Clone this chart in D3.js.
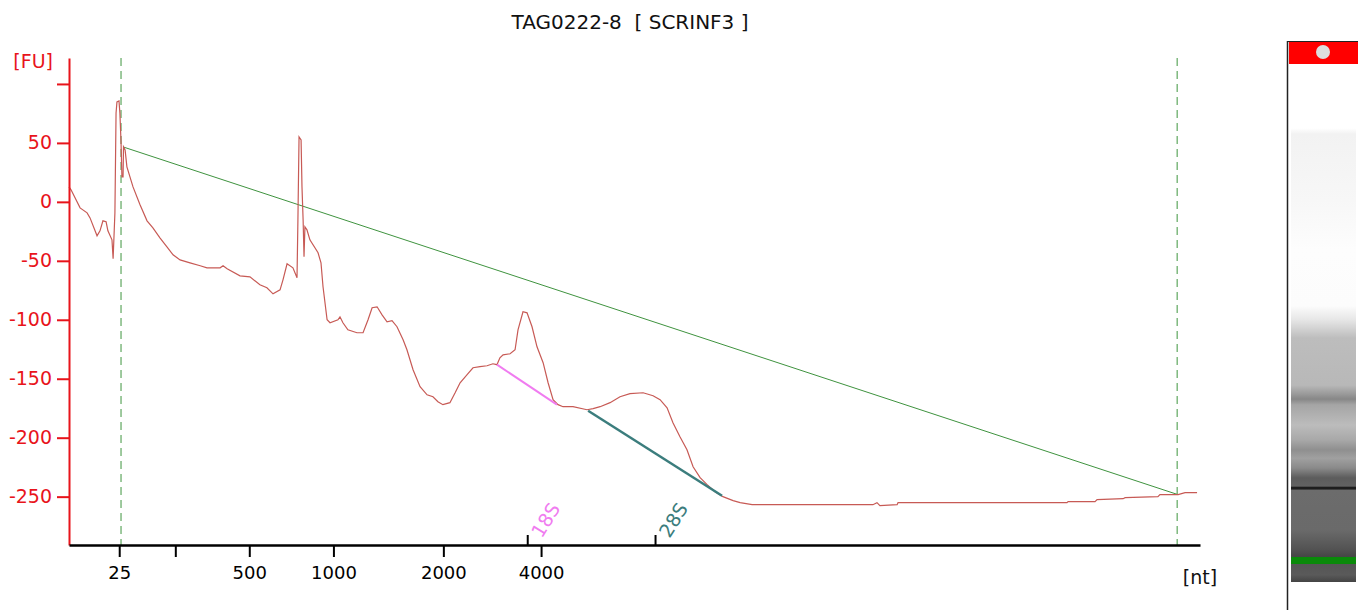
<!DOCTYPE html>
<html>
<head>
<meta charset="utf-8">
<script src="https://cdn.jsdelivr.net/npm/d3@7"></script>
<style>
  body { margin: 0; background: #fff; }
  svg { display: block; }
  text { font-family: "DejaVu Sans", Verdana, sans-serif; }
</style>
</head>
<body>
<svg id="chart" width="1358" height="610"></svg>
<script>
// migration time (s) and fluorescence (FU)
const timeSec = [19.00,19.09,19.49,19.80,19.93,20.24,20.37,20.50,20.64,20.72,
  20.90,20.95,21.03,21.08,21.12,21.21,21.25,21.30,21.34,21.39,
  21.41,21.48,21.56,21.83,22.14,22.45,22.71,23.02,23.33,23.60,
  23.91,24.35,24.80,25.10,25.68,25.81,25.99,26.56,27.00,27.44,
  27.75,28.02,28.33,28.46,28.64,28.90,29.08,29.12,29.17,29.26,
  29.30,29.35,29.39,29.43,29.52,29.65,30.01,30.14,30.23,30.41,
  30.54,30.89,30.98,31.11,31.33,31.73,32.00,32.22,32.40,32.62,
  32.84,33.06,33.28,33.50,33.77,33.94,34.21,34.52,34.83,35.09,
  35.31,35.53,35.84,36.07,36.29,36.60,36.86,37.17,37.48,37.74,
  37.92,38.05,38.19,38.50,38.72,38.85,39.07,39.25,39.47,39.69,
  39.96,40.18,40.40,40.62,40.84,41.28,41.90,42.17,42.48,42.92,
  43.36,43.80,44.38,44.82,45.13,45.44,45.70,46.01,46.32,46.59,
  46.90,47.21,47.56,47.91,48.36,48.67,49.20,54.54,54.72,54.85,
  55.61,55.65,63.12,63.17,64.36,64.45,65.60,65.69,67.14,67.23,
  68.03,68.34,68.87];
const fluor = [12.7,10.2,-5.1,-9.3,-13.6,-28.8,-24.6,-16.1,-16.9,-24.6,
  -32.2,-48.3,-9.3,75.4,84.7,85.6,75.4,50.8,21.2,21.2,
  46.6,44.1,29.7,12.7,-2.5,-16.1,-22.0,-30.5,-38.1,-44.9,
  -49.2,-51.7,-54.2,-55.9,-55.9,-54.2,-56.8,-62.7,-63.6,-70.3,
  -72.9,-78.0,-74.6,-66.1,-52.5,-55.9,-64.4,-15.3,55.1,52.5,
  12.7,-15.3,-46.6,-21.2,-23.7,-32.2,-43.2,-51.7,-72.0,-100.0,
  -102.5,-100.0,-97.5,-102.5,-108.5,-111.0,-111.0,-100.0,-89.8,-89.0,
  -95.8,-101.7,-100.8,-105.9,-116.9,-125.4,-142.4,-156.8,-163.6,-165.3,
  -169.5,-172.0,-170.3,-161.9,-153.4,-146.6,-140.7,-139.8,-139.0,-137.3,
  -138.1,-132.2,-129.7,-128.8,-125.4,-108.5,-93.2,-94.1,-105.9,-122.9,
  -136.4,-153.4,-167.8,-172.0,-173.7,-173.7,-176.3,-175.4,-173.7,-170.3,
  -165.3,-162.7,-161.9,-164.4,-167.8,-174.6,-187.3,-199.2,-210.2,-224.6,
  -233.9,-239.8,-245.8,-250.0,-253.4,-255.1,-256.8,-256.8,-255.1,-257.6,
  -256.8,-255.1,-255.1,-254.2,-254.2,-252.5,-251.7,-250.8,-250.0,-248.3,
  -248.3,-246.6,-246.6];

// ladder positions on the time axis and their size labels
const ladderTimes = [21.22, 23.70, 26.97, 30.69, 35.55, 39.87];
const ladderLabels = ["25", "", "500", "1000", "2000", "4000"];

const fuTicks = [100, 50, 0, -50, -100, -150, -200, -250];
const fuLabels = ["", "50", "0", "-50", "-100", "-150", "-200", "-250"];

// lower / upper markers and the baseline drawn between them
const markerTimes = [21.30, 67.99];
const baselineTimes = [21.39, 68.03];
const baselineFU = [46.6, -248.3];

// ribosomal peaks: name, tick time, area line start/end
const rrnaNames = ["18S", "28S"];
const rrnaTimes = [39.28, 44.93];
const rrnaStartTime = [37.92, 41.95];
const rrnaStartFU = [-138.1, -177.1];
const rrnaEndTime = [40.57, 47.87];
const rrnaEndFU = [-172.0, -249.2];
const rrnaColors = ["#f07cf0", "#3b7d7d"];

// gel lane grey levels (offset along lane, colour)
const gelOffsets = [0, 0.124, 0.135, 0.263, 0.359, 0.467, 0.494, 0.529, 0.62, 0.637,
  0.647, 0.658, 0.697, 0.726, 0.745, 0.761, 0.780, 0.799, 0.815, 0.817,
  0.821, 0.822, 0.9, 0.938, 0.952, 0.952, 0.965, 0.965, 0.986, 1];
const gelColors = ["#ffffff", "#ffffff", "#f2f2f2", "#f7f7f7", "#fdfdfd", "#fcfcfc", "#e6e6e6", "#bdbdbd", "#b8b8b8", "#9a9a9a",
  "#878787", "#a5a5a5", "#bcbcbc", "#a8a8a8", "#8f8f8f", "#a0a0a0", "#8a8a8a", "#5c5c5c", "#626262", "#1e1e1e",
  "#1e1e1e", "#6c6c6c", "#6a6a6a", "#525252", "#454545", "#0a8a0a", "#0a8a0a", "#555555", "#5a5a5a", "#444444"];

const svg = d3.select("#chart");
const red = "#e8141b";
const font = "DejaVu Sans, Verdana, sans-serif";

const x = d3.scaleLinear().domain([19, 69]).range([69, 1200]);
const y = d3.scaleLinear().domain([-291, 122]).range([545, 58]);

// title
svg.append("text")
  .attr("x", 630).attr("y", 29)
  .attr("text-anchor", "middle")
  .attr("font-size", 20)
  .attr("fill", "#111")
  .attr("xml:space", "preserve")
  .text("TAG0222-8  [ SCRINF3 ]");

// marker lines
svg.selectAll(".marker")
  .data(markerTimes)
  .join("line")
  .attr("x1", d => x(d)).attr("x2", d => x(d))
  .attr("y1", y.range()[1]).attr("y2", y.range()[0])
  .attr("stroke", "#3e963e")
  .attr("stroke-width", 1)
  .attr("stroke-dasharray", "8,5");

// baseline
svg.append("line")
  .attr("x1", x(baselineTimes[0])).attr("y1", y(baselineFU[0]))
  .attr("x2", x(baselineTimes[1])).attr("y2", y(baselineFU[1]))
  .attr("stroke", "#3f933f")
  .attr("stroke-width", 1);

// trace
const line = d3.line()
  .x((d, i) => x(timeSec[i]))
  .y(d => y(d));

svg.append("path")
  .datum(fluor)
  .attr("d", line)
  .attr("fill", "none")
  .attr("stroke", "#c75a55")
  .attr("stroke-width", 1.2);

// 18S / 28S area lines
svg.selectAll(".rrna")
  .data(rrnaNames)
  .join("line")
  .attr("x1", (d, i) => x(rrnaStartTime[i])).attr("y1", (d, i) => y(rrnaStartFU[i]))
  .attr("x2", (d, i) => x(rrnaEndTime[i])).attr("y2", (d, i) => y(rrnaEndFU[i]))
  .attr("stroke", (d, i) => rrnaColors[i])
  .attr("stroke-width", (d, i) => i ? 2.5 : 2);

// y axis
const yAxis = svg.append("g")
  .attr("transform", `translate(${x.range()[0]},0)`)
  .call(d3.axisLeft(y).tickValues(fuTicks).tickSize(12).tickSizeOuter(0).tickPadding(5)
    .tickFormat((d, i) => fuLabels[i]));
yAxis.select(".domain").attr("stroke", red).attr("stroke-width", 2);
yAxis.selectAll(".tick line").attr("stroke", red).attr("stroke-width", 2);
yAxis.selectAll(".tick text")
  .attr("fill", red)
  .attr("font-size", 19)
  .attr("font-family", font);

svg.append("text")
  .attr("x", 53).attr("y", 68)
  .attr("text-anchor", "end")
  .attr("font-size", 19)
  .attr("fill", red)
  .text("[FU]");

// x axis
const xAxis = svg.append("g")
  .attr("transform", `translate(0,${y.range()[0]})`)
  .call(d3.axisBottom(x).tickValues(ladderTimes).tickSize(12).tickSizeOuter(0).tickPadding(9)
    .tickFormat((d, i) => ladderLabels[i]));
xAxis.select(".domain").attr("stroke", "#000").attr("stroke-width", 2.5);
xAxis.selectAll(".tick line").attr("stroke", "#000").attr("stroke-width", 2);
xAxis.selectAll(".tick text")
  .attr("fill", "#000")
  .attr("font-size", 18)
  .attr("font-family", font);

svg.append("text")
  .attr("x", x.range()[1]).attr("y", 584)
  .attr("text-anchor", "middle")
  .attr("font-size", 19)
  .attr("fill", "#111")
  .text("[nt]");

// rRNA ticks above the axis and their rotated names
svg.selectAll(".rtick")
  .data(rrnaTimes)
  .join("line")
  .attr("x1", d => x(d)).attr("x2", d => x(d))
  .attr("y1", y.range()[0]).attr("y2", y.range()[0] - 10)
  .attr("stroke", "#000")
  .attr("stroke-width", 2);

svg.selectAll(".rlabel")
  .data(rrnaNames)
  .join("text")
  .attr("transform", (d, i) => `translate(${x(rrnaTimes[i]) + 14},${y.range()[0] - 6}) rotate(-58)`)
  .attr("font-size", 19)
  .attr("fill", (d, i) => rrnaColors[i])
  .text(d => d);

// gel lane
const defs = svg.append("defs");
const grad = defs.append("linearGradient")
  .attr("id", "gel")
  .attr("x1", 0).attr("y1", 0).attr("x2", 0).attr("y2", 1);
grad.selectAll("stop")
  .data(gelOffsets)
  .join("stop")
  .attr("offset", d => d)
  .attr("stop-color", (d, i) => gelColors[i]);

const lane = svg.append("g");
lane.append("rect")
  .attr("x", 1291).attr("y", 64).attr("width", 65).attr("height", 518)
  .attr("fill", "url(#gel)");
lane.append("rect")
  .attr("x", 1289).attr("y", 42).attr("width", 69).attr("height", 22)
  .attr("fill", "#ff0000");
lane.append("circle")
  .attr("cx", 1323).attr("cy", 52).attr("r", 7)
  .attr("fill", "#dedede");
lane.append("line")
  .attr("x1", 1287.5).attr("x2", 1287.5).attr("y1", 41).attr("y2", 610)
  .attr("stroke", "#222").attr("stroke-width", 1.5);
lane.append("line")
  .attr("x1", 1287).attr("x2", 1358).attr("y1", 41.5).attr("y2", 41.5)
  .attr("stroke", "#222").attr("stroke-width", 1);
</script>
</body>
</html>
